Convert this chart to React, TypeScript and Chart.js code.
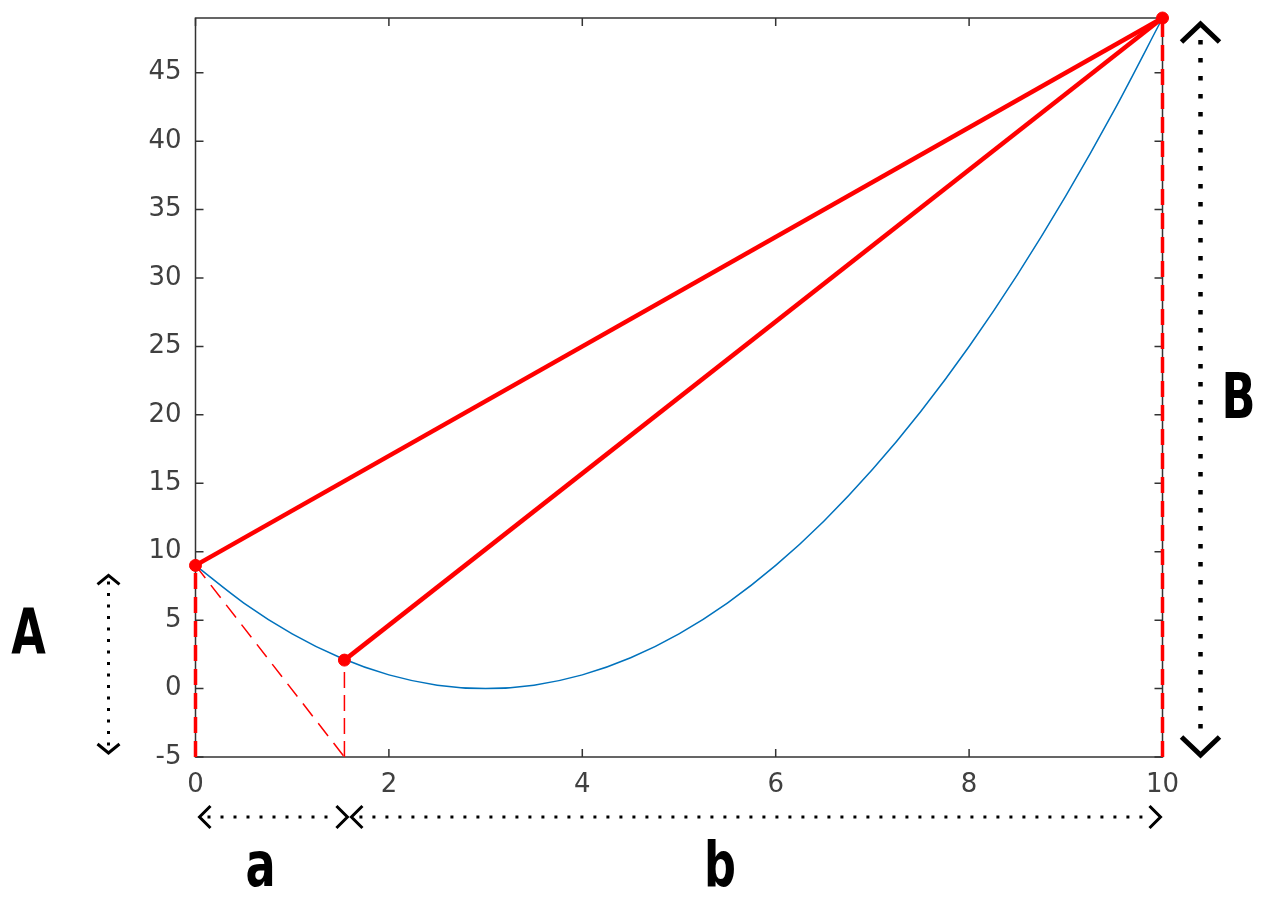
import React, { useEffect, useRef } from "react";
import { Chart, registerables } from "chart.js";
Chart.register(...registerables);

// Blue curve
const curveX = [0, 0.5, 1, 1.5, 2, 2.5, 3, 3.5, 4, 4.5, 5, 5.5, 6, 6.5, 7, 7.5, 8, 8.5, 9, 9.5, 10];
const curveY = [9, 6.25, 4, 2.25, 1, 0.25, 0, 0.25, 1, 2.25, 4, 6.25, 9, 12.25, 16, 20.25, 25, 30.25, 36, 42.25, 49];

// Solid red lines
const chordX = [0, 10];
const chordY = [9, 49];
const tangentX = [1.54, 10];
const tangentY = [2.08, 49];

// Red markers
const markerX = [0, 1.54, 10];
const markerY = [9, 2.08, 49];

// Dashed red lines
const dashLeftX = [0, 0];
const dashLeftY = [-5, 9];
const dashRightX = [10, 10];
const dashRightY = [-5, 49];
const dashMidX = [1.54, 1.54];
const dashMidY = [-5, 2.08];
const dashDiagX = [0, 1.54];
const dashDiagY = [9, -5];

// Axes
const xTicks = [0, 2, 4, 6, 8, 10];
const yTicks = [-5, 0, 5, 10, 15, 20, 25, 30, 35, 40, 45];
const X_MIN = 0, X_MAX = 10, Y_MIN = -5, Y_MAX = 49;

// Annotation spans (data units)
const spanA = [9, -5.0];
const spanB = [49, -5];
const spanSmallA = [0, 1.54];
const spanSmallB = [1.54, 10];
const labels = ["A", "B", "a", "b"];

const pts = (xs: number[], ys: number[]) => xs.map((x, i) => ({ x, y: ys[i] }));

const RED = "#FF0000";
const BLUE = "#0072BD";

const boxPlugin = {
  id: "boxTicks",
  beforeDatasetsDraw(chart: any) {
    const { ctx, chartArea: a, scales } = chart;
    ctx.save();
    ctx.strokeStyle = "#333333";
    ctx.lineWidth = 1.5;
    ctx.strokeRect(a.left, a.top, a.right - a.left, a.bottom - a.top);
    const tl = 8;
    ctx.beginPath();
    for (const v of xTicks) {
      const px = scales.x.getPixelForValue(v);
      ctx.moveTo(px, a.bottom); ctx.lineTo(px, a.bottom - tl);
      ctx.moveTo(px, a.top); ctx.lineTo(px, a.top + tl);
    }
    for (const v of yTicks) {
      const py = scales.y.getPixelForValue(v);
      ctx.moveTo(a.left, py); ctx.lineTo(a.left + tl, py);
      ctx.moveTo(a.right, py); ctx.lineTo(a.right - tl, py);
    }
    ctx.stroke();
    ctx.restore();
  },
};

function chevron(ctx: CanvasRenderingContext2D, x: number, y: number, dir: string, w: number, h: number) {
  ctx.beginPath();
  if (dir === "up") { ctx.moveTo(x - w, y + h); ctx.lineTo(x, y); ctx.lineTo(x + w, y + h); }
  if (dir === "down") { ctx.moveTo(x - w, y - h); ctx.lineTo(x, y); ctx.lineTo(x + w, y - h); }
  if (dir === "left") { ctx.moveTo(x + h, y - w); ctx.lineTo(x, y); ctx.lineTo(x + h, y + w); }
  if (dir === "right") { ctx.moveTo(x - h, y - w); ctx.lineTo(x, y); ctx.lineTo(x - h, y + w); }
  ctx.stroke();
}

function dotted(ctx: CanvasRenderingContext2D, x1: number, y1: number, x2: number, y2: number, size: number, gap: number) {
  ctx.save();
  ctx.setLineDash([size, gap]);
  ctx.lineCap = "butt";
  ctx.lineWidth = size;
  ctx.beginPath();
  ctx.moveTo(x1, y1);
  ctx.lineTo(x2, y2);
  ctx.stroke();
  ctx.restore();
}

function letter(ctx: CanvasRenderingContext2D, t: string, cx: number, cy: number) {
  ctx.save();
  ctx.translate(cx, cy);
  ctx.scale(0.8, 1);
  ctx.font = "bold 62px 'Liberation Sans Narrow', 'DejaVu Sans Condensed', sans-serif";
  ctx.fillStyle = "#000";
  ctx.textAlign = "center";
  ctx.textBaseline = "alphabetic";
  ctx.fillText(t, 0, 0);
  ctx.restore();
}

const annotPlugin = {
  id: "annot",
  afterDraw(chart: any) {
    const { ctx, chartArea: a, scales } = chart;
    const xs = scales.x, ys = scales.y;
    ctx.save();
    ctx.strokeStyle = "#000";
    ctx.fillStyle = "#000";
    ctx.lineJoin = "miter";

    // A arrow (vertical, left)
    const axA = a.left - 87;
    const aTop = ys.getPixelForValue(spanA[0]) + 10;
    const aBot = ys.getPixelForValue(spanA[1]) - 4;
    dotted(ctx, axA, aTop + 6, axA, aBot - 6, 3, 8.5);
    ctx.lineWidth = 3;
    chevron(ctx, axA, aTop, "up", 11, 9);
    chevron(ctx, axA, aBot, "down", 11, 9);

    // B arrow (vertical, right)
    const bxB = a.right + 38;
    const bTop = ys.getPixelForValue(spanB[0]) + 6;
    const bBot = ys.getPixelForValue(spanB[1]) - 2;
    dotted(ctx, bxB, bTop + 16, bxB, bBot - 14, 4.5, 13.5);
    ctx.lineWidth = 5;
    chevron(ctx, bxB, bTop, "up", 19, 18);
    chevron(ctx, bxB, bBot, "down", 19, 18);

    // a / b arrows (horizontal, bottom)
    const hy = a.bottom + 60;
    const ax1 = xs.getPixelForValue(spanSmallA[0]) + 4;
    const ax2 = xs.getPixelForValue(spanSmallA[1]) + 3;
    const bx1 = xs.getPixelForValue(spanSmallB[0]) + 7;
    const bx2 = xs.getPixelForValue(spanSmallB[1]) - 2;
    dotted(ctx, ax1 + 8, hy, ax2 - 10, hy, 3, 10);
    dotted(ctx, bx1 + 8, hy, bx2 - 10, hy, 3, 10);
    ctx.lineWidth = 3;
    chevron(ctx, ax1, hy, "left", 11, 11);
    chevron(ctx, ax2, hy, "right", 11, 11);
    chevron(ctx, bx1, hy, "left", 11, 11);
    chevron(ctx, bx2, hy, "right", 11, 11);

    // Letters
    letter(ctx, labels[0], a.left - 167, (aTop + aBot) / 2 - 11);
    letter(ctx, labels[1], a.right + 76, (bTop + bBot) / 2 + 28);
    letter(ctx, labels[2], (ax1 + ax2) / 2 - 13, hy + 69);
    letter(ctx, labels[3], (bx1 + bx2) / 2 - 36, hy + 69);
    ctx.restore();
  },
};

export default function App() {
  const ref = useRef<HTMLCanvasElement>(null);
  useEffect(() => {
    if (!ref.current) return;
    const line = (xs: number[], ys: number[], color: string, width: number, dash: number[], order: number) => ({
      data: pts(xs, ys),
      showLine: true,
      borderColor: color,
      backgroundColor: color,
      borderWidth: width,
      borderDash: dash,
      pointRadius: 0,
      tension: 0,
      clip: false as any,
      order,
    });
    const chart = new Chart(ref.current, {
      type: "scatter",
      data: {
        datasets: [
          { ...line(curveX, curveY, BLUE, 1.5, [], 6), cubicInterpolationMode: "monotone" as any },
          line(dashLeftX, dashLeftY, RED, 3.5, [16, 8], 5),
          line(dashRightX, dashRightY, RED, 3.5, [16, 8], 5),
          line(dashMidX, dashMidY, RED, 1.5, [16, 7], 5),
          line(dashDiagX, dashDiagY, RED, 1.5, [16, 9], 5),
          line(chordX, chordY, RED, 4.5, [], 2),
          line(tangentX, tangentY, RED, 4.5, [], 2),
          {
            data: pts(markerX, markerY),
            showLine: false,
            pointRadius: 6,
            pointBackgroundColor: RED,
            pointBorderColor: RED,
            borderColor: RED,
            backgroundColor: RED,
            clip: false as any,
            order: 1,
          },
        ],
      },
      options: {
        animation: false,
        responsive: false,
        maintainAspectRatio: false,
        events: [],
        layout: { padding: { left: 0, top: 18, right: 105.5, bottom: 0 } },
        plugins: { legend: { display: false }, tooltip: { enabled: false } },
        scales: {
          x: {
            type: "linear",
            min: X_MIN,
            max: X_MAX,
            grid: { display: false, drawTicks: false },
            border: { display: false },
            afterBuildTicks: (s: any) => { s.ticks = xTicks.map((v) => ({ value: v })); },
            afterFit: (s: any) => { s.height = 144; s.paddingLeft = 0; s.paddingRight = 0; },
            ticks: {
              color: "#404040",
              padding: 13,
              maxRotation: 0,
              font: { family: "'DejaVu Sans', sans-serif", size: 26 },
            },
          },
          y: {
            type: "linear",
            min: Y_MIN,
            max: Y_MAX,
            grid: { display: false, drawTicks: false },
            border: { display: false },
            afterBuildTicks: (s: any) => { s.ticks = yTicks.map((v) => ({ value: v })); },
            afterFit: (s: any) => { s.width = 195.5; s.paddingTop = 0; s.paddingBottom = 0; },
            ticks: {
              color: "#404040",
              padding: 14,
              font: { family: "'DejaVu Sans', sans-serif", size: 26 },
            },
          },
        },
      },
      plugins: [boxPlugin, annotPlugin],
    });
    return () => chart.destroy();
  }, []);
  return (
    <div style={{ position: "fixed", left: 0, top: 0, width: 1268, height: 901, background: "#fff" }}>
      <canvas ref={ref} width={1268} height={901} style={{ width: 1268, height: 901, display: "block" }} />
    </div>
  );
}
